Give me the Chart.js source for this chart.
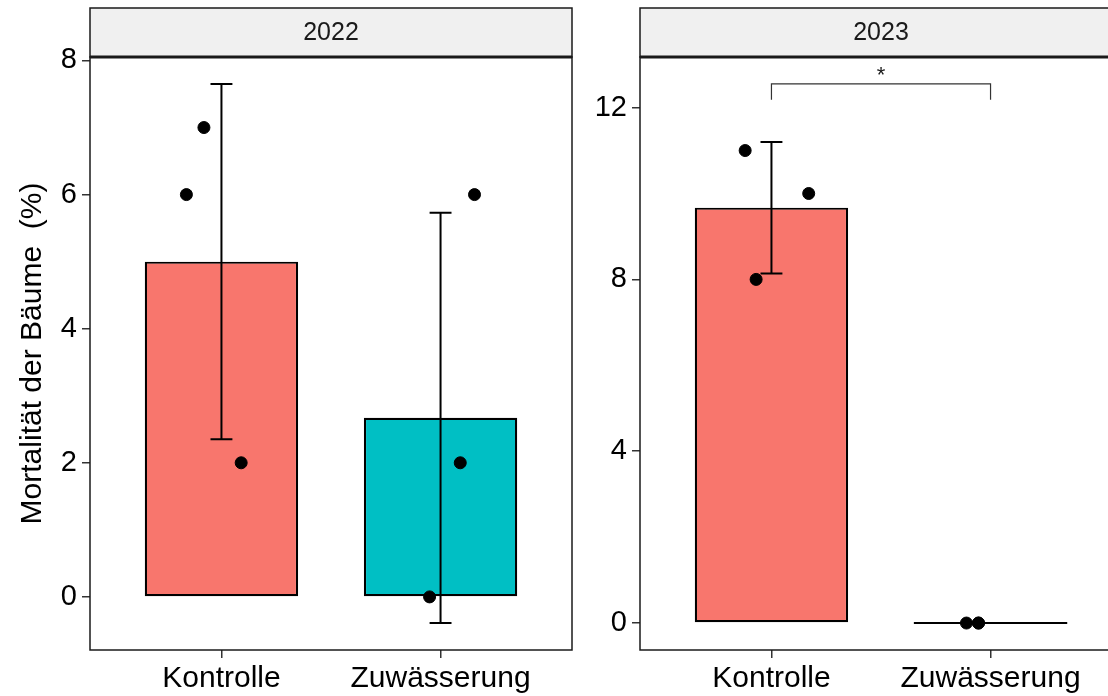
<!DOCTYPE html>
<html>
<head>
<meta charset="utf-8">
<script src="https://cdn.jsdelivr.net/npm/chart.js@4"></script>
<style>
  html, body { margin: 0; padding: 0; background: #fff; width: 1108px; height: 696px; overflow: hidden; position: relative; }
  #c2022 { position: absolute; left: 0; top: 0; }
  #c2023 { position: absolute; left: 580px; top: 0; }
</style>
</head>
<body>
<canvas id="c2022" width="600" height="696"></canvas>
<canvas id="c2023" width="560" height="696"></canvas>
<script>
// data
const categories = ["Kontrolle", "Zuwässerung"];
const barColors = ["#F8766D", "#00BFC4"];
const years = ["2022", "2023"];

const mean2022 = [5.0, 2.67];
const sd2022 = [2.65, 3.06];
const mean2023 = [9.67, 0];
const sd2023 = [1.53, 0];

// single trees (jitter = horizontal offset in category units)
const kontrolle2022 = [6, 7, 2];
const kontrolleJitter2022 = [-0.16, -0.08, 0.09];
const zuwaesserung2022 = [6, 2, 0];
const zuwaesserungJitter2022 = [0.155, 0.09, -0.05];
const kontrolle2023 = [11, 10, 8];
const kontrolleJitter2023 = [-0.12, 0.17, -0.07];
const zuwaesserung2023 = [0, 0, 0];
const zuwaesserungJitter2023 = [-0.11, -0.055, -0.055];

const yTicks2022 = [0, 2, 4, 6, 8];
const yTicks2023 = [0, 4, 8, 12];

// significance bracket 2023
const sig2023 = { from: 1, to: 2, y: 12.55, tip: 0.37, label: "*" };

const FONT = "'Liberation Sans', Arial, sans-serif";
const INK = "#1a1a1a";

function pts(vals, jit, cat){
  return vals.map((v, i) => ({ x: cat + jit[i], y: v }));
}

// ggplot style 5% expansion
function yLimits(means, sds, singles, extra){
  let all = singles.slice();
  means.forEach((m, i) => { all.push(m - sds[i]); all.push(m + sds[i]); });
  if(extra != null) all.push(extra);
  let lo = Math.min(...all), hi = Math.max(...all);
  let pad = (hi - lo) * 0.05;
  return [lo - pad, hi + pad];
}

const panelPlugin = {
  id: "panel",
  afterDatasetDraw(chart, args, opts){
    if(args.meta.type !== "bar") return;
    const ctx = chart.ctx;
    const xs = chart.scales.x, ys = chart.scales.y;
    ctx.save();
    ctx.strokeStyle = "#000";
    ctx.lineWidth = 2;
    // zero height bars -> just the outline line
    args.meta.data.forEach(el => {
      if(Math.abs(el.base - el.y) < 1){
        ctx.beginPath();
        ctx.moveTo(el.x - el.width / 2, el.y);
        ctx.lineTo(el.x + el.width / 2, el.y);
        ctx.stroke();
      }
    });
    // error bars (mean +- sd)
    opts.means.forEach((m, i) => {
      let cx = xs.getPixelForValue(i + 1);
      let half = xs.getPixelForValue(i + 1.05) - cx;
      let top = ys.getPixelForValue(m + opts.sds[i]);
      let bot = ys.getPixelForValue(m - opts.sds[i]);
      ctx.beginPath();
      ctx.moveTo(cx, top); ctx.lineTo(cx, bot);
      ctx.moveTo(cx - half, top); ctx.lineTo(cx + half, top);
      ctx.moveTo(cx - half, bot); ctx.lineTo(cx + half, bot);
      ctx.stroke();
    });
    ctx.restore();
  },
  afterDraw(chart, args, opts){
    const {ctx, chartArea: a} = chart;
    const right = opts.openRight ? chart.width + 10 : a.right;
    ctx.save();
    // strip
    ctx.fillStyle = "#F0F0F0";
    ctx.fillRect(a.left, 8, right - a.left, a.top - 8);
    ctx.strokeStyle = INK;
    ctx.lineWidth = 1.5;
    ctx.strokeRect(a.left, 8, right - a.left, a.top - 8);
    ctx.strokeRect(a.left, a.top, right - a.left, a.bottom - a.top);
    ctx.lineWidth = 3;
    ctx.beginPath(); ctx.moveTo(a.left, a.top); ctx.lineTo(right, a.top); ctx.stroke();
    ctx.fillStyle = INK;
    ctx.font = "25px " + FONT;
    ctx.textAlign = "center";
    ctx.textBaseline = "middle";
    ctx.fillText(opts.label, (a.left + a.right) / 2, (8 + a.top) / 2 + 1);
    // significance bracket
    if(opts.sig){
      const s = opts.sig, xs = chart.scales.x, ys = chart.scales.y;
      let x1 = xs.getPixelForValue(s.from), x2 = xs.getPixelForValue(s.to);
      let yTop = ys.getPixelForValue(s.y), yTip = ys.getPixelForValue(s.y - s.tip);
      ctx.strokeStyle = "#333";
      ctx.lineWidth = 1.2;
      ctx.beginPath();
      ctx.moveTo(x1, yTip); ctx.lineTo(x1, yTop); ctx.lineTo(x2, yTop); ctx.lineTo(x2, yTip);
      ctx.stroke();
      ctx.fillStyle = INK;
      ctx.font = "22px " + FONT;
      ctx.textBaseline = "alphabetic";
      ctx.fillText(s.label, (x1 + x2) / 2, yTop - 2);
    }
    ctx.restore();
  }
};

function makeChart(id, year, means, sds, kont, kontJ, zuw, zuwJ, yTicks, sig, axisWidth, padRight, showTitle){
  let lim = yLimits(means, sds, kont.concat(zuw), sig ? sig.y : null);
  return new Chart(document.getElementById(id), {
    type: "bar",
    data: {
      datasets: [
        {
          type: "bar",
          data: means.map((m, i) => ({ x: i + 1, y: m })),
          backgroundColor: barColors,
          borderColor: "#000",
          borderWidth: 2.2,
          borderSkipped: false,
          barPercentage: 0.7,
          categoryPercentage: 1,
          order: 2
        },
        {
          type: "scatter",
          data: pts(kont, kontJ, 1).concat(pts(zuw, zuwJ, 2)),
          backgroundColor: "#000",
          borderColor: "#000",
          pointRadius: 6,
          order: 1
        }
      ]
    },
    options: {
      responsive: false,
      animation: false,
      layout: { padding: { top: 57, right: padRight, left: 0, bottom: 0 } },
      plugins: {
        legend: { display: false },
        tooltip: { enabled: false },
        panel: { label: year, means: means, sds: sds, sig: sig, openRight: !!sig }
      },
      scales: {
        x: {
          type: "linear",
          min: 0.4, max: 2.6,
          offset: false,
          afterBuildTicks: s => { s.ticks = categories.map((c, i) => ({ value: i + 1 })); },
          afterFit: s => { s.height = 46; },
          ticks: {
            callback: (v, i) => categories[i],
            font: { size: 30, family: FONT },
            color: "#000",
            padding: 3,
            maxRotation: 0
          },
          grid: { offset: false, drawOnChartArea: false, tickLength: 8, color: "#333", lineWidth: 1.5 },
          border: { display: false }
        },
        y: {
          type: "linear",
          min: lim[0], max: lim[1],
          afterBuildTicks: s => { s.ticks = yTicks.map(v => ({ value: v })); },
          afterFit: s => { s.width = axisWidth; },
          ticks: {
            font: { size: 29, family: FONT },
            color: "#000",
            padding: 5
          },
          grid: { drawOnChartArea: false, tickLength: 8, color: "#333", lineWidth: 1.5 },
          border: { display: false },
          title: {
            display: showTitle,
            text: "Mortalität der Bäume  (%)",
            font: { size: 30, family: FONT },
            color: "#000",
            padding: { top: 15, bottom: 0 }
          }
        }
      }
    },
    plugins: [panelPlugin]
  });
}

makeChart("c2022", years[0], mean2022, sd2022,
  kontrolle2022, kontrolleJitter2022, zuwaesserung2022, zuwaesserungJitter2022,
  yTicks2022, null, 90, 28, true);

makeChart("c2023", years[1], mean2023, sd2023,
  kontrolle2023, kontrolleJitter2023, zuwaesserung2023, zuwaesserungJitter2023,
  yTicks2023, sig2023, 60, 18, false);
</script>
</body>
</html>
